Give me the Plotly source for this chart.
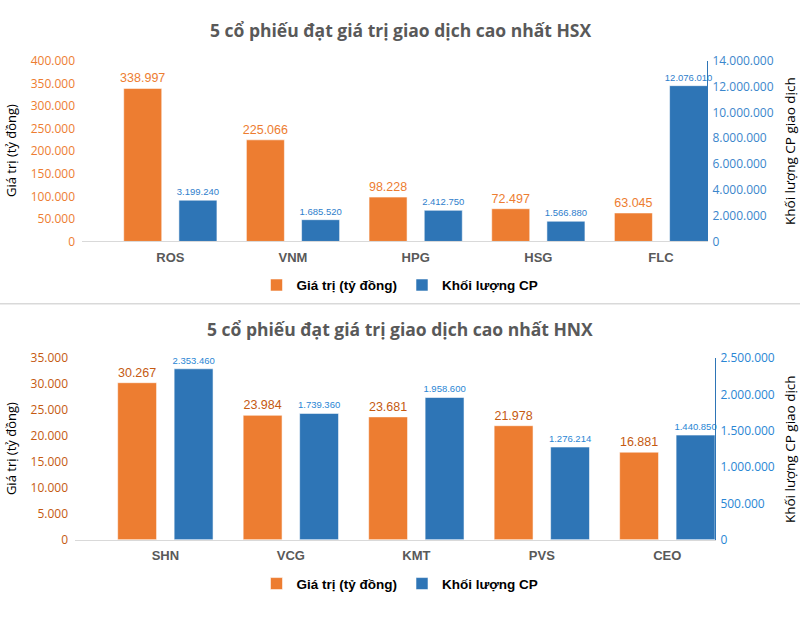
import plotly.graph_objects as go

# ---- data ----
hsx_codes = ["ROS", "VNM", "HPG", "HSG", "FLC"]
hsx_value = [338997, 225066, 98228, 72497, 63045]          # Giá trị (tỷ đồng)
hsx_volume = [3199240, 1685520, 2412750, 1566880, 12076010]  # Khối lượng CP

hnx_codes = ["SHN", "VCG", "KMT", "PVS", "CEO"]
hnx_value = [30267, 23984, 23681, 21978, 16881]
hnx_volume = [2353460, 1739360, 1958600, 1276214, 1440850]

title_hsx = "5 cổ phiếu đạt giá trị giao dịch cao nhất HSX"
title_hnx = "5 cổ phiếu đạt giá trị giao dịch cao nhất HNX"
name_value = "Giá trị (tỷ đồng)"
name_volume = "Khối lượng CP"
ytitle_left = "Giá trị (tỷ đồng)"
ytitle_right = "Khối lượng CP giao dịch"

# ---- style ----
W, H = 800, 620
ORANGE = "#ED7D31"
ORANGE_DARK = "#C55A11"
BLUE = "#2E75B6"
BLUE_TXT = "#2F80CC"
GRAY = "#595959"
LABELFONT = "Liberation Sans, Arial"
TICKFONT = "Open Sans, Arial"

def py(px):
    return 1 - px / H

BW = 0.31
OFF_O = -0.38
OFF_B = 0.07

fig = go.Figure()

def add_pair(codes, vals, vols, xa, ya, ya2, lab_o_color, lab_b_color, legend):
    fig.add_trace(go.Bar(
        x=codes, y=vals, name=name_value, xaxis=xa, yaxis=ya,
        marker=dict(color=ORANGE, line=dict(color="rgba(255,255,255,0.55)", width=1)),
        width=BW, offset=OFF_O,
        texttemplate="%{y:,}", textposition="outside", cliponaxis=False,
        constraintext="none",
        textfont=dict(family=LABELFONT, size=12.5, color=lab_o_color),
        legend=legend, hoverinfo="x+y"))
    fig.add_trace(go.Bar(
        x=codes, y=vols, name=name_volume, xaxis=xa, yaxis=ya2,
        marker=dict(color=BLUE, line=dict(color="rgba(255,255,255,0.55)", width=1)),
        width=BW, offset=OFF_B,
        texttemplate="%{y:,}", textposition="outside", cliponaxis=False,
        constraintext="none",
        textfont=dict(family=LABELFONT, size=9.5, color=lab_b_color),
        legend=legend, hoverinfo="x+y"))

add_pair(hsx_codes, hsx_value, hsx_volume, "x", "y", "y2", ORANGE, BLUE_TXT, "legend")
add_pair(hnx_codes, hnx_value, hnx_volume, "x2", "y3", "y4", ORANGE_DARK, "#2A86D4", "legend2")

top_dom = [py(239), py(53.3)]
bot_dom = [py(545.7), py(359)]

xcommon = dict(type="category", showgrid=False, zeroline=False, showline=True,
               linecolor="#D9D9D9", linewidth=1, ticks="",
               tickfont=dict(family="Liberation Sans, Arial", size=13, color=GRAY, weight="bold"),
               ticklabelstandoff=4)
ycommon = dict(showgrid=False, zeroline=False, tickformat=",", ticks="")

fig.update_layout(
    width=W, height=H,
    margin=dict(l=0, r=0, t=0, b=0),
    paper_bgcolor="white", plot_bgcolor="white",
    separators=",.",
    barmode="overlay",
    font=dict(family="Liberation Sans, Arial", color="black"),
    xaxis=dict(domain=[82 / W, 707 / W], anchor="y", range=[-0.72, 4.375], **xcommon),
    yaxis=dict(domain=top_dom, anchor="x", range=[0, 400000], dtick=50000,
               tickfont=dict(family=TICKFONT, size=12, color=ORANGE),
               ticklabelstandoff=6, **ycommon),
    yaxis2=dict(overlaying="y", side="right", anchor="x", range=[0, 14000000], dtick=2000000,
                showline=True, linecolor=BLUE, linewidth=1,
                tickfont=dict(family=TICKFONT, size=12, color="#3A86CC"),
                ticklabelstandoff=2, **ycommon),
    xaxis2=dict(domain=[75 / W, 715 / W], anchor="y3", range=[-0.72, 4.38], **xcommon),
    yaxis3=dict(domain=bot_dom, anchor="x2", range=[0, 35000], dtick=5000,
                tickfont=dict(family=TICKFONT, size=12, color=ORANGE_DARK),
                ticklabelstandoff=6, **ycommon),
    yaxis4=dict(overlaying="y3", side="right", anchor="x2", range=[0, 2500000], dtick=500000,
                showline=True, linecolor=BLUE, linewidth=1,
                tickfont=dict(family=TICKFONT, size=12, color="#2A86D4"),
                ticklabelstandoff=2, **ycommon),
    legend=dict(orientation="h", x=0.5, xanchor="center", y=py(284), yanchor="middle",
                font=dict(family="Liberation Sans, Arial", size=13.5, color="black", weight="bold"),
                bgcolor="rgba(0,0,0,0)", itemclick=False),
    legend2=dict(orientation="h", x=0.5, xanchor="center", y=py(591), yanchor="middle",
                 font=dict(family="Liberation Sans, Arial", size=13.5, color="black", weight="bold"),
                 bgcolor="rgba(0,0,0,0)", itemclick=False),
    showlegend=True,
)

ann = []
for title, ypx in [(title_hsx, 22), (title_hnx, 329)]:
    ann.append(dict(text=title, x=0.5, y=py(ypx), xref="paper", yref="paper",
                    xanchor="center", yanchor="middle", showarrow=False,
                    font=dict(family="Open Sans, Arial", size=17.5, color=GRAY, weight="bold")))
for ymid in [146, 452.5]:
    ann.append(dict(text=ytitle_left, x=11 / W, y=py(ymid), xref="paper", yref="paper",
                    xanchor="center", yanchor="middle", textangle=-90, showarrow=False,
                    font=dict(family="Open Sans, Arial", size=13, color="black")))
    ann.append(dict(text=ytitle_right, x=790 / W, y=py(ymid), xref="paper", yref="paper",
                    xanchor="center", yanchor="middle", textangle=-90, showarrow=False,
                    font=dict(family="Open Sans, Arial", size=13.5, color="black")))
fig.update_layout(annotations=ann)

fig.add_shape(type="line", xref="paper", yref="paper", x0=0, x1=1, y0=py(303), y1=py(303),
              line=dict(color="#D9D9D9", width=1.5))

fig.write_html("out.html")
